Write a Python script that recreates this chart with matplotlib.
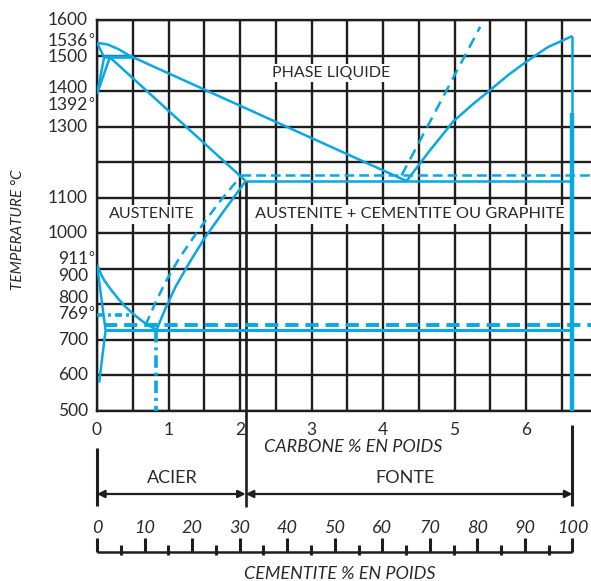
import matplotlib
matplotlib.use('Agg')
import matplotlib.pyplot as plt
import matplotlib.transforms as mtransforms
import numpy as np

plt.rcParams['font.family'] = ['Lato', 'DejaVu Sans']
plt.rcParams['lines.scale_dashes'] = False
plt.rcParams['lines.solid_capstyle'] = 'butt'

# ---------------- data (carbon %, temperature °C) ----------------
liquidus_c = [0.0, 0.15, 0.30, 0.45, 4.33]
liquidus_t = [1536, 1531, 1518, 1500, 1147]
delta_solidus_c = [0.0, 0.10]
delta_solidus_t = [1536, 1495]
peritectic_c = [0.10, 0.50]
peritectic_t = [1495, 1495]
delta_gamma_a_c = [0.0, 0.10]
delta_gamma_a_t = [1392, 1495]
delta_gamma_b_c = [0.0, 0.18]
delta_gamma_b_t = [1392, 1495]
gamma_solidus_c = [0.18, 2.08]
gamma_solidus_t = [1495, 1147]
eutectic_c = [2.08, 6.65]
eutectic_t = [1147, 1147]
eutectic_g_c = [2.02, 6.95]
eutectic_g_t = [1163, 1163]
liq_cem_c = [4.33, 4.50, 4.66, 4.98, 5.25, 5.50, 5.75, 6.00, 6.30, 6.65]
liq_cem_t = [1147, 1192, 1234, 1314, 1362, 1403, 1445, 1482, 1523, 1555]
liq_graph_c = [4.26, 5.36]
liq_graph_t = [1163, 1581]
cementite_c = [6.65, 6.65]
cementite_t = [1555, 500]
cementite_thick_t = [1337, 500]
acm_c = [0.83, 0.95, 1.10, 1.30, 1.50, 1.80, 2.08]
acm_t = [727, 785, 850, 920, 985, 1070, 1147]
acm_g_c = [0.68, 0.80, 0.95, 1.15, 1.40, 1.70, 2.02]
acm_g_t = [742, 797, 860, 930, 1003, 1085, 1163]
a3_c = [0.0, 0.05, 0.10, 0.20, 0.30, 0.40, 0.50, 0.60, 0.70, 0.83]
a3_t = [911, 888, 868, 840, 815, 793, 774, 758, 743, 729]
alpha_c = [0.0, 0.12, 0.03]
alpha_t = [911, 727, 580]
eutectoid_c = [0.12, 6.65]
eutectoid_t = [727, 727]
eutectoid_g_c = [0.10, 6.95]
eutectoid_g_t = [742, 742]
curie_c = [0.0, 0.45]
curie_t = [769, 769]
eutectoid_comp = 0.83
steel_limit = 2.08

ytick_values = [1600, 1536, 1500, 1400, 1392, 1300, 1100, 1000, 911, 900, 800, 769, 700, 600, 500]
ytick_degree = [False, True, False, False, True, False, False, False, True, False, False, True, False, False, False]
xtick_values = [0, 1, 2, 3, 4, 5, 6]
cem_major = list(range(0, 101, 10))
cem_minor = list(range(5, 100, 10))

# ---------------- layout ----------------
W, H = 591, 581
BLUE = '#08A8E4'
BLACK = '#1e1e1e'
TXT = '#2a2a2a'

fig = plt.figure(figsize=(W / 100, H / 100), dpi=100)
ax = fig.add_axes([97 / W, 1 - 411 / H, (W - 97) / W, (411 - 20) / H])
ax.set_xlim(0, (W - 97) / 71.5)
ax.set_ylim(500, 1600)

halfs = np.arange(0, 7.0, 0.5)
ax.set_xticks(halfs)
ax.set_xticklabels([str(int(v)) if int(v) in xtick_values and float(v).is_integer() else '' for v in halfs])
ax.set_yticks(np.arange(500, 1601, 100))
ax.set_yticklabels([])
ax.tick_params(length=0, labelsize=12.5, labelcolor=TXT, pad=8)
ax.grid(True, color=BLACK, lw=1.7, zorder=0)
ax.set_axisbelow(True)
for s in ['left', 'bottom', 'top']:
    ax.spines[s].set_color(BLACK)
    ax.spines[s].set_linewidth(1.7)
ax.spines['right'].set_visible(False)

# y labels (custom, nudged to avoid overlaps)
nudge_px = {1536: -2, 1500: 1.5, 1392: 11, 1400: -3, 911: -6, 900: 7, 800: -6, 769: -1}
for v, deg in zip(ytick_values, ytick_degree):
    off = mtransforms.ScaledTranslation(0, -nudge_px.get(v, 0) / 100, fig.dpi_scale_trans)
    tr = mtransforms.blended_transform_factory(fig.transFigure, ax.transData) + off
    ax.text(88 / W, v, str(v), transform=tr, ha='right', va='center', fontsize=12.5, color=TXT, clip_on=False)
    if deg:
        ax.text(88 / W, v, '°', transform=tr + mtransforms.ScaledTranslation(0, 0.02, fig.dpi_scale_trans),
                ha='left', va='center', fontsize=10, color=TXT, clip_on=False)

fig.text(18 / W, 1 - 230 / H, 'TEMPERATURE °C', rotation=90, ha='center', va='center',
         fontsize=11, style='italic', color=TXT)

# ---------------- phase lines ----------------
lw = 1.8
def solid(c, t, w=lw):
    ax.plot(c, t, color=BLUE, lw=w, zorder=3, solid_joinstyle='round')

solid(liquidus_c, liquidus_t)
solid(delta_solidus_c, delta_solidus_t)
solid(peritectic_c, peritectic_t, w=2.6)
solid(delta_gamma_a_c, delta_gamma_a_t)
solid(delta_gamma_b_c, delta_gamma_b_t)
solid(gamma_solidus_c, gamma_solidus_t)
solid(eutectic_c, eutectic_t)
solid(liq_cem_c, liq_cem_t)
solid(cementite_c, cementite_t)
ax.plot([cementite_c[0]] * 2, cementite_thick_t, color=BLUE, lw=3.2, zorder=3)
solid(acm_c, acm_t)
solid(a3_c, a3_t)
solid(alpha_c, alpha_t)
solid(eutectoid_c, eutectoid_t, w=2.2)

ax.plot(eutectic_g_c, eutectic_g_t, color=BLUE, lw=1.8, dashes=(7, 3.6), zorder=3)
ax.plot(liq_graph_c, liq_graph_t, color=BLUE, lw=1.8, dashes=(8, 5), zorder=3)
ax.plot(acm_g_c, acm_g_t, color=BLUE, lw=1.8, dashes=(7, 4.5), zorder=3)
ax.plot(eutectoid_g_c, eutectoid_g_t, color=BLUE, lw=2.8, dashes=(9.5, 5), zorder=3)
ax.plot(curie_c, curie_t, color=BLUE, lw=2.6, dashes=(5, 3, 2, 3), zorder=3)
ax.plot([eutectoid_comp, eutectoid_comp], [727, 500], color=BLUE, lw=2.6,
        dashes=(9, 3.5, 2.2, 3.5), zorder=3)

# black vertical steel/cast-iron limit
ax.plot([steel_limit, steel_limit], [1147, 500], color=BLACK, lw=1.9, zorder=2.5)

# ---------------- region labels ----------------
box = dict(facecolor='white', edgecolor='none', pad=1.5)
ax.text(3.28, 1450, 'PHASE LIQUIDE', ha='center', va='center', fontsize=11.5, color=TXT, bbox=box, zorder=4)
ax.text(0.765, 1053, 'AUSTENITE', ha='center', va='center', fontsize=11.5, color=TXT, bbox=box, zorder=4)
ax.text(4.38, 1053, 'AUSTENITE + CEMENTITE OU GRAPHITE', ha='center', va='center', fontsize=11.8,
        color=TXT, bbox=box, zorder=4)

# ---------------- bottom annotations ----------------
trb = mtransforms.blended_transform_factory(ax.transData, fig.transFigure)
fy = lambda py: 1 - py / H

fig.text(353 / W, fy(447), 'CARBONE % EN POIDS', ha='center', va='center', fontsize=13,
         style='italic', color=TXT)

ax.plot([0, 0], [fy(448), fy(506)], transform=trb, color=BLACK, lw=2.2, clip_on=False)
ax.plot([steel_limit, steel_limit], [fy(411), fy(507)], transform=trb, color=BLACK, lw=1.9, clip_on=False)
ax.plot([cementite_c[0]] * 2, [fy(425), fy(506)], transform=trb, color=BLACK, lw=2.2, clip_on=False)

arr = dict(arrowstyle='<|-|>', color=BLACK, lw=1.6, mutation_scale=11, shrinkA=0, shrinkB=0)
ax.annotate('', xy=(steel_limit, fy(494)), xytext=(0, fy(494)), xycoords=trb, textcoords=trb,
            arrowprops=arr, annotation_clip=False)
ax.annotate('', xy=(cementite_c[0], fy(494)), xytext=(steel_limit, fy(494)), xycoords=trb,
            textcoords=trb, arrowprops=arr, annotation_clip=False)
ax.text(1.06, fy(478), 'ACIER', transform=trb, ha='center', va='center', fontsize=13, color=TXT)
ax.text(4.31, fy(478), 'FONTE', transform=trb, ha='center', va='center', fontsize=13, color=TXT)

# cementite scale
cem_to_c = lambda p: p / 100 * cementite_c[0]
ax.plot([0, cem_to_c(100)], [fy(552), fy(552)], transform=trb, color=BLACK, lw=1.8, clip_on=False)
for p in cem_major:
    ax.plot([cem_to_c(p)] * 2, [fy(538), fy(552)], transform=trb, color=BLACK, lw=2.2, clip_on=False)
    ax.text(cem_to_c(p), fy(528), str(p), transform=trb, ha='center', va='center', fontsize=13,
            style='italic', color=TXT)
for p in cem_minor:
    ax.plot([cem_to_c(p)] * 2, [fy(545), fy(555)], transform=trb, color=BLACK, lw=2.2, clip_on=False)

fig.text(340 / W, fy(574), 'CEMENTITE % EN POIDS', ha='center', va='center', fontsize=13,
         style='italic', color=TXT)

fig.savefig('out.png', dpi=100, facecolor='white')
